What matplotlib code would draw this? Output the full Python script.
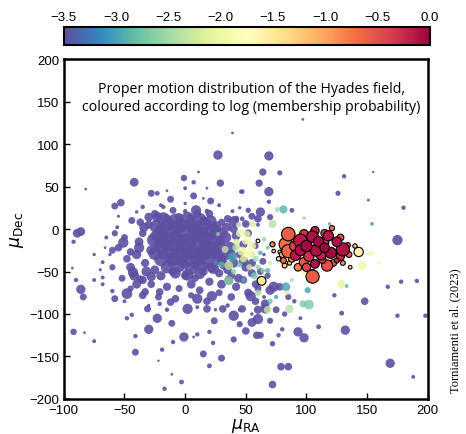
import matplotlib
matplotlib.use("Agg")
import matplotlib.pyplot as plt
import numpy as np

# field stars, (pmra, pmdec, marker size); coloured at the bottom of the scale
field_upper = [
    (39, 113, 4), (27, 87, 45), (-42, 55, 40), (-1, 60, 22), (11, 67, 4), (7, 55, 10),
    (29, 54, 28), (0, 48, 8), (18, 48, 4), (46, 44, 8), (-82, 47, 4), (-28, 42, 25),
    (-23, 42, 12), (-15, 45, 4), (7, 39, 25), (-12, 35, 25), (-53, 31, 30), (-58, 27, 25),
    (15, 36, 4), (21, 33, 25), (9, 22, 55), (18, 21, 12), (0, 21, 10), (-35, 26, 10),
    (-18, 26, 10), (39, 21, 8), (47, 12, 12), (97, 129, 4), (69, 86, 45), (64, 67, 28),
    (78, 66, 14), (61, 54, 28), (69, 44, 45), (69, 32, 10), (62, 20, 45), (88, 22, 12),
    (131, 62, 10), (155, 67, 3), (126, 42, 14), (151, 34, 4), (180, 25, 10), (47, 44, 12),
]

field_left = [
    (-86, -3, 40), (-89, -5, 40), (-92, -15, 10), (-93, -46, 4), (-90, -60, 10),
    (-86, -71, 45), (-84, -80, 25), (-75, -60, 8), (-68, -57, 8), (-68, -39, 8),
    (-60, -25, 25), (-56, 2, 8), (-66, -22, 4), (-92, -121, 22), (-83, -122, 4),
    (-75, -132, 8), (-58, -82, 25), (-60, -73, 10), (-48, -105, 10), (-44, -101, 10),
    (-41, -126, 10), (-41, -145, 25), (-30, -118, 45), (-23, -105, 45), (-31, -94, 25),
    (-21, -88, 10), (-22, -155, 3), (-17, -188, 10), (-11, -171, 4), (-3, -180, 12),
    (-1, -127, 45), (-11, -111, 25), (-19, -142, 10), (-10, -133, 10), (7, -127, 4),
    (15, -147, 25), (20, -161, 12), (30, -152, 25), (23, -134, 10), (20, -121, 10),
    (24, -108, 25), (10, -124, 10), (-48, -76, 60), (-51, -16, 55), (-45, -27, 30),
    (-43, -51, 55), (-37, -59, 30), (-33, -74, 30), (-21, -74, 30), (-12, -86, 30),
    (2, -94, 55), (10, -82, 55), (18, -94, 30), (31, -94, 30), (40, -102, 55),
    (47, -94, 30), (22, -79, 55), (-37, 8, 30), (-23, 14, 55), (10, 18, 30),
    (40, 9, 55), (50, 6, 30),
]

field_right = [
    (175, -13, 55), (191, -61, 10), (178, -62, 10), (167, -68, 10), (148, -85, 30),
    (123, -78, 10), (129, -99, 12), (132, -119, 45), (175, -102, 10), (198, -102, 10),
    (110, -115, 12), (93, -121, 45), (98, -128, 45), (77, -125, 10), (59, -125, 30),
    (169, -158, 45), (79, -162, 30), (85, -162, 30), (72, -183, 30), (188, -174, 8),
    (73, -68, 55), (66, -94, 45), (60, -106, 55), (54, -79, 55),
    (62, -60, 30), (70, -72, 45), (78, -68, 30), (66, -88, 40), (75, -95, 25),
    (85, -80, 20), (60, -95, 35), (55, -110, 40), (70, -108, 20), (82, -100, 15),
    (90, -85, 10), (95, -105, 8), (80, -118, 10), (50, -120, 30), (45, -112, 20),
    (62, -125, 25), (72, -135, 15), (40, -130, 20),
    (42, -8, 40), (48, -38, 45), (55, -52, 35), (44, -58, 40), (58, -65, 30),
    (64, -38, 25), (68, -55, 20), (60, 12, 30), (70, 14, 20), (52, 22, 15),
]

field_core = [
    (-20, 0, 60), (-12, 5, 55), (-5, 2, 70), (3, 6, 50), (10, 0, 60), (15, -5, 55),
    (-18, -10, 65), (-8, -8, 70), (0, -12, 60), (8, -10, 65), (16, -15, 50),
    (-22, -18, 55), (-14, -20, 60), (-4, -18, 70), (5, -22, 60), (13, -25, 55),
    (20, -20, 50), (-18, -30, 55), (-8, -28, 60), (2, -30, 65), (10, -33, 55),
    (18, -30, 50), (25, -28, 45), (-12, -38, 50), (-2, -40, 55), (8, -42, 50),
    (-25, -8, 45), (-28, -25, 50), (22, -8, 45), (28, -15, 40), (30, -35, 45),
    (-15, 12, 40), (-5, 14, 35), (5, 12, 45), (15, 10, 40), (-30, 5, 35), (25, 0, 40),
    (-18, 12, 90), (-8, 10, 100), (2, 13, 80), (12, 11, 95), (21, 9, 75),
    (-24, 3, 85), (-14, 5, 100), (-4, 4, 110), (6, 3, 95), (16, 5, 100), (25, 2, 80),
    (-20, -5, 105), (-10, -3, 110), (0, -5, 100), (10, -4, 110), (20, -2, 95), (29, -6, 80),
    (-26, -13, 90), (-15, -12, 110), (-5, -14, 100), (5, -12, 110), (15, -11, 100),
    (24, -13, 95), (33, -10, 75),
    (-20, -21, 100), (-10, -19, 110), (0, -22, 105), (10, -20, 110), (19, -22, 100),
    (28, -19, 90), (37, -22, 70),
    (-25, -29, 85), (-14, -27, 105), (-4, -29, 110), (6, -27, 100), (15, -29, 105),
    (24, -27, 95), (33, -30, 75),
    (-20, -36, 90), (-10, -35, 100), (0, -37, 105), (10, -36, 95), (19, -38, 90),
    (28, -35, 80),
    (-15, -45, 80), (-5, -43, 90), (5, -46, 85), (14, -44, 80), (23, -46, 70),
    (-8, -52, 60), (2, -54, 70), (12, -53, 55),
]

field_ring = [
    (-35, -5, 30), (-38, -15, 40), (-40, -30, 45), (-33, -40, 35), (-45, -45, 40),
    (-48, -35, 30), (-42, -55, 50), (-35, -60, 35), (-25, -48, 40), (-20, -55, 45),
    (-10, -50, 40), (0, -55, 35), (8, -58, 30), (15, -50, 40), (22, -45, 45),
    (28, -52, 35), (35, -48, 40), (40, -40, 45), (38, -55, 30), (-28, -65, 30),
    (-15, -68, 35), (-5, -70, 25), (5, -65, 40), (12, -72, 30), (20, -62, 35),
    (30, -65, 40), (42, -68, 35), (48, -60, 30), (50, -45, 40), (55, -40, 35),
    (45, -30, 30), (48, -18, 35), (52, -5, 30), (40, 0, 35), (35, 12, 30),
    (-50, -10, 25), (-55, -22, 30), (-60, -45, 20), (-52, -58, 25), (-45, -70, 20),
    (-35, -78, 30), (-22, -80, 25), (-8, -82, 30), (5, -78, 20), (18, -85, 30),
    (28, -75, 25), (38, -80, 30), (52, -75, 35), (58, -85, 30), (60, -70, 25),
    (-58, -5, 20), (-44, 10, 25), (-25, 18, 30), (-10, 22, 25), (20, 18, 30),
    (30, 8, 25), (42, 12, 20), (55, 15, 25), (58, -20, 20), (62, -50, 25),
    (-65, -10, 8), (-62, -30, 6), (-70, -48, 5), (-50, -85, 8), (-30, -90, 6),
    (-15, -95, 10), (10, -92, 8), (25, -95, 6), (35, -90, 10), (45, -95, 8),
    (55, -100, 6), (65, -80, 8), (-40, 20, 6), (-20, 28, 8), (0, 30, 6), (28, 28, 8),
    (45, 25, 6), (60, 5, 8), (65, -30, 6), (-55, 15, 5), (-75, -30, 6), (-68, -65, 8),
    (-34, 2, 45), (-38, -22, 55), (-32, -50, 50), (-40, -65, 40), (-28, -56, 45),
    (32, -42, 50), (36, -60, 40), (38, -30, 45), (34, 2, 45), (-30, 14, 40),
]

# intermediate probabilities, (pmra, pmdec, size, log p), no outline
mid_stars = [
    (33, -24, 25, -2.3), (36, -43, 40, -2.3), (36, -61, 45, -2.6), (39, -33, 45, -3.0),
    (47, -26, 45, -1.95), (50, -14, 30, -1.85), (27, -6, 10, -2.7), (81, 23, 35, -2.9),
    (76, 23, 12, -2.5), (98, 13, 5, -2.7), (72, 6, 35, -2.4), (96, -4, 40, -2.0),
    (146, -43, 40, -2.0), (153, -29, 15, -2.0), (98, -49, 25, -2.0), (129, -65, 40, -2.05),
    (133, -67, 8, -3.0), (101, -72, 20, -3.0), (102, -89, 50, -2.7), (97, -88, 25, -2.7),
    (86, -94, 35, -2.4), (64, -49, 12, -2.6), (68, -49, 15, -2.9), (83, -68, 40, -3.0),
    (75, -80, 10, -3.0), (119, 6, 6, -3.0), (154, 6, 8, -3.0), (51, -6, 25, -2.0),
    (55, -20, 35, -1.95), (42, -15, 20, -2.2), (45, -42, 15, -2.8), (58, -35, 20, -2.5),
    (60, -45, 15, -2.6), (70, -40, 10, -2.2), (30, -42, 20, -2.9), (25, -40, 10, -3.1),
    (88, -60, 8, -2.5), (110, -60, 6, -2.1), (160, -40, 5, -2.0),
    (45, -5, 30, -2.0), (52, -28, 40, -1.9), (48, -35, 25, -2.1), (55, -30, 20, -2.2),
    (42, -22, 30, -2.4), (53, -45, 20, -2.3), (40, -50, 15, -2.6), (57, -55, 25, -2.7),
    (65, -12, 10, -2.6), (68, -22, 8, -2.8), (62, -28, 10, -3.0), (44, 5, 15, -2.4),
    (48, -60, 12, -2.9), (60, -75, 20, -2.5), (70, -85, 15, -2.8), (84, -75, 12, -2.2),
    (68, -95, 30, -2.3), (56, 6, 20, -2.2),
]

# likely Hyades members, (pmra, pmdec, size, log p), black outline
hyades_stars = [
    (85, -6, 95, -0.6), (83, -18, 95, -0.7), (85, -26, 90, -0.65), (95, -14, 95, -0.15),
    (105, -9, 70, -0.1), (114, -16, 60, -0.5), (118, -8, 55, -0.15), (130, -24, 90, -0.1),
    (134, -19, 14, -0.7), (143, -27, 45, -1.6), (136, -45, 7, -1.5), (125, -37, 14, -0.2),
    (117, -43, 65, -0.5), (107, -41, 40, -0.1), (105, -51, 18, -0.7), (105, -56, 90, -0.6),
    (98, -39, 48, -0.6), (91, -31, 55, -0.15), (81, -37, 18, -0.7), (78, -27, 7, -1.4),
    (72, -18, 14, -0.8), (73, -26, 7, -1.3), (60, -14, 7, -1.6), (63, -61, 40, -1.5),
    (121, 1, 14, -0.7), (100, -20, 65, -0.05), (108, -25, 70, -0.1), (112, -30, 60, -0.2),
    (120, -28, 65, -0.05), (102, -32, 55, -0.3), (95, -25, 60, -0.1), (90, -20, 48, -0.4),
    (110, -15, 55, -0.05), (125, -15, 48, -0.1), (128, -32, 36, -0.3), (115, -22, 48, -0.02),
    (100, -45, 36, -0.4), (93, -45, 30, -0.8), (88, -35, 24, -0.9), (80, -30, 18, -1.1),
    (82, -43, 12, -1.3), (77, -35, 10, -1.5), (86, -40, 10, -1.2), (122, -40, 24, -0.6),
    (113, -36, 30, -0.3), (107, -2, 36, -0.2), (98, -6, 42, -0.3), (115, -5, 30, -0.4),
    (128, -10, 24, -0.5), (135, -30, 18, -0.6), (130, -40, 12, -0.9), (140, -20, 10, -1.1),
]

cb_ticks = [-3.5, -3.0, -2.5, -2.0, -1.5, -1.0, -0.5, 0.0]

cmap = plt.get_cmap("Spectral_r")
vmin, vmax = -3.5, 0.0

plt.rcParams["font.family"] = ["Liberation Sans", "DejaVu Sans"]

fig = plt.figure(figsize=(4.66, 4.35), dpi=100)
ax = fig.add_axes([0.137, 0.0805, 0.781, 0.7815])

field = field_upper + field_left + field_right + field_ring + field_core
f_ra, f_dec, f_s = (np.array(v, dtype=float) for v in zip(*field))
ax.scatter(f_ra, f_dec, s=f_s, color=cmap(0.0), alpha=0.9, linewidths=0, zorder=2)

m_ra, m_dec, m_s, m_p = (np.array(v, dtype=float)
                         for v in zip(*sorted(mid_stars, key=lambda r: r[3])))
ax.scatter(m_ra, m_dec, s=m_s, c=m_p, cmap=cmap, vmin=vmin, vmax=vmax,
           alpha=0.8, linewidths=0, zorder=3)

h_ra, h_dec, h_s, h_p = (np.array(v, dtype=float)
                         for v in zip(*sorted(hyades_stars, key=lambda r: r[3])))
sc = ax.scatter(h_ra, h_dec, s=h_s, c=h_p, cmap=cmap, vmin=vmin, vmax=vmax,
                edgecolors="black", linewidths=0.8, zorder=4)

ax.set_xlim(-100, 200)
ax.set_ylim(-200, 200)
ax.set_xticks([-100, -50, 0, 50, 100, 150, 200])
ax.set_yticks([-200, -150, -100, -50, 0, 50, 100, 150, 200])
ax.tick_params(direction="in", length=4, width=1, labelsize=9.5, top=False, right=False)
for sp in ax.spines.values():
    sp.set_linewidth(1.8)

ax.set_xlabel(r"$\mu_{\rm RA}$", fontsize=12.5, labelpad=0)
ax.set_ylabel(r"$\mu_{\rm Dec}$", fontsize=12.5, labelpad=2)

ax.text(0.515, 0.935,
        "Proper motion distribution of the Hyades field,\n"
        "coloured according to log (membership probability)",
        transform=ax.transAxes, ha="center", va="top", fontsize=10.2,
        family=["Open Sans", "DejaVu Sans"], linespacing=1.25, zorder=5)

cax = fig.add_axes([0.137, 0.894, 0.785, 0.041])
cb = fig.colorbar(sc, cax=cax, orientation="horizontal")
cb.set_ticks(cb_ticks)
cb.ax.set_xticklabels([f"{t:.1f}".replace("-", "\u2212") for t in cb_ticks])
cax.xaxis.set_ticks_position("top")
cax.tick_params(length=0, labelsize=9.5, pad=3)
cb.outline.set_linewidth(1.5)

fig.text(0.976, 0.24, "Torniamenti et al. (2023)", rotation=90, ha="center",
         va="center", fontsize=9, family=["Liberation Serif", "DejaVu Serif"])

fig.savefig("out.png", dpi=100)
